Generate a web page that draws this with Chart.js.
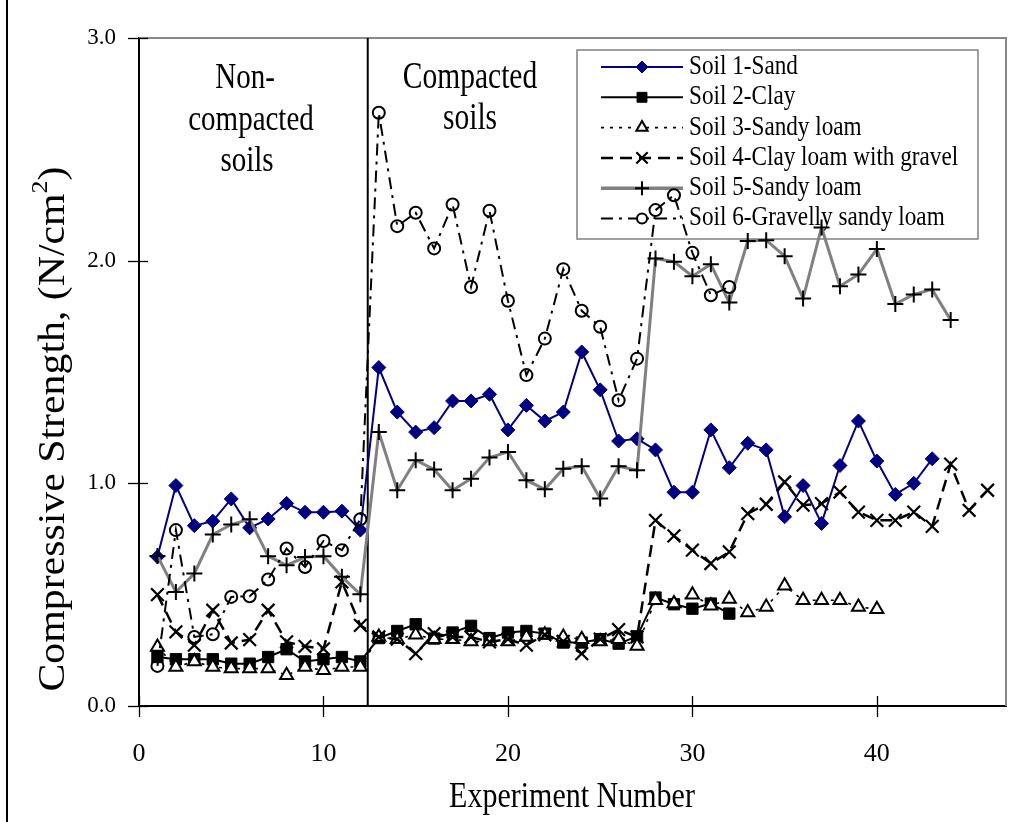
<!DOCTYPE html>
<html>
<head>
<meta charset="utf-8">
<script src="https://cdn.jsdelivr.net/npm/chart.js@4.4.1/dist/chart.umd.min.js"></script>
<style>
html,body{margin:0;padding:0;background:#fff;}
#wrap{position:relative;width:1019px;height:822px;}
canvas{display:block;}
</style>
</head>
<body>
<div id="wrap"><canvas id="c" width="1019" height="822"></canvas></div>
<script>
// ---- Data ----
const seriesNames = [
  'Soil 1-Sand',
  'Soil 2-Clay',
  'Soil 3-Sandy loam',
  'Soil 4-Clay loam with gravel',
  'Soil 5-Sandy loam',
  'Soil 6-Gravelly sandy loam'
];
// values for experiment numbers 1, 2, 3, ...
const soil1Sand = [0.67, 0.99, 0.81, 0.83, 0.93, 0.80, 0.84, 0.91, 0.87, 0.87, 0.875, 0.79,
  1.52, 1.32, 1.23, 1.25, 1.37, 1.37, 1.40, 1.24, 1.35, 1.28, 1.32, 1.59, 1.42, 1.19, 1.20,
  1.15, 0.96, 0.96, 1.24, 1.07, 1.18, 1.15, 0.85, 0.99, 0.82, 1.08, 1.28, 1.10, 0.95, 1.00, 1.11];
const soil2Clay = [0.22, 0.21, 0.21, 0.21, 0.19, 0.19, 0.22, 0.255, 0.20, 0.21, 0.22, 0.20,
  0.305, 0.337, 0.367, 0.303, 0.33, 0.36, 0.305, 0.33, 0.337, 0.325, 0.285, 0.285, 0.30, 0.28, 0.313,
  0.487, 0.457, 0.437, 0.46, 0.415];
const soil3SandyLoam = [0.265, 0.175, 0.20, 0.175, 0.168, 0.168, 0.168, 0.138, 0.175, 0.16, 0.175, 0.175,
  0.31, 0.30, 0.32, 0.30, 0.30, 0.29, 0.29, 0.29, 0.31, 0.32, 0.31, 0.30, 0.29, 0.30, 0.27,
  0.475, 0.46, 0.50, 0.45, 0.48, 0.42, 0.445, 0.54, 0.475, 0.475, 0.475, 0.445, 0.435];
const soil4ClayLoamGravel = [0.50, 0.333, 0.273, 0.43, 0.283, 0.298, 0.43, 0.288, 0.268, 0.257, 0.557, 0.362,
  0.31, 0.30, 0.235, 0.325, 0.31, 0.31, 0.288, 0.30, 0.273, 0.32, 0.29, 0.235, 0.30, 0.343, 0.31,
  0.834, 0.764, 0.70, 0.64, 0.692, 0.864, 0.906, 1.006, 0.902, 0.909, 0.961, 0.871, 0.834, 0.834, 0.871, 0.807, 1.086, 0.879, 0.969];
const soil5SandyLoam = [0.674, 0.512, 0.595, 0.77, 0.815, 0.839, 0.673, 0.632, 0.669, 0.673, 0.58, 0.502,
  1.231, 0.969, 1.104, 1.062, 0.969, 1.021, 1.116, 1.141, 1.014, 0.973, 1.066, 1.077, 0.932, 1.077, 1.059,
  2.01, 1.995, 1.93, 1.984, 1.812, 2.088, 2.092, 2.02, 1.83, 2.149, 1.885, 1.938, 2.052, 1.805, 1.848, 1.871, 1.733];
const soil6GravellySandyLoam = [0.18, 0.79, 0.31, 0.322, 0.49, 0.493, 0.568, 0.707, 0.624, 0.741, 0.70, 0.839,
  2.664, 2.155, 2.215, 2.055, 2.252, 1.882, 2.224, 1.82, 1.486, 1.65, 1.962, 1.775, 1.703, 1.373, 1.56,
  2.227, 2.294, 2.035, 1.845, 1.882];
const xTickValues = [0, 10, 20, 30, 40];
const yTickValues = [0, 1, 2, 3];
const dividerExperiment = 12.4;
const regionLabelsLeft = ['Non-', 'compacted', 'soils'];
const regionLabelsRight = ['Compacted', 'soils'];
const xTitle = 'Experiment Number';

// ---- Styles ----
const SERIF = '"Liberation Serif", "Times New Roman", serif';
const styles = [
  {color:'#000080', width:2, dash:[], pointStyle:'rectRot', radius:7, fill:'#000080', pbw:1, pcolor:'#000080'},
  {color:'#000000', width:2, dash:[], pointStyle:'rect', radius:8, fill:'#000000', pbw:1, pcolor:'#000000'},
  {color:'#000000', width:1.6, dash:[3,6], pointStyle:'triangle', radius:7.5, fill:'#ffffff', pbw:2, pcolor:'#000000'},
  {color:'#000000', width:2.5, dash:[12,7], pointStyle:'crossRot', radius:9, fill:'#000000', pbw:2.2, pcolor:'#000000'},
  {color:'#808080', width:3, dash:[], pointStyle:'cross', radius:8, fill:'#000000', pbw:2, pcolor:'#000000'},
  {color:'#000000', width:2, dash:[12,6,3,6], pointStyle:'circle', radius:6, fill:'rgba(0,0,0,0)', pbw:2, pcolor:'#000000'}
];
const seriesValues = [soil1Sand, soil2Clay, soil3SandyLoam, soil4ClayLoamGravel, soil5SandyLoam, soil6GravellySandyLoam];

const datasets = seriesValues.map((vals, i) => ({
  label: seriesNames[i],
  data: vals.map((v, k) => ({x: k + 1, y: v})),
  borderColor: styles[i].color,
  borderWidth: styles[i].width,
  borderDash: styles[i].dash,
  backgroundColor: styles[i].fill,
  pointStyle: styles[i].pointStyle,
  pointRadius: styles[i].radius,
  pointBackgroundColor: styles[i].fill,
  pointBorderColor: styles[i].pcolor,
  pointBorderWidth: styles[i].pbw,
  tension: 0,
  fill: false,
  order: 6 - i
}));

function sText(ctx, txt, x, y, size, align, sy) {
  ctx.save();
  ctx.translate(x, y);
  ctx.scale(1, sy);
  ctx.font = size + 'px ' + SERIF;
  ctx.textAlign = align;
  ctx.textBaseline = 'middle';
  ctx.fillStyle = '#000';
  ctx.fillText(txt, 0, 0);
  ctx.restore();
}

const decor = {
  id: 'decor',
  beforeDatasetsDraw(chart) {
    const ctx = chart.ctx, a = chart.chartArea;
    const xs = chart.scales.x, ys = chart.scales.y;
    ctx.save();
    // figure frame (left edge)
    ctx.strokeStyle = '#000'; ctx.lineWidth = 2;
    ctx.beginPath(); ctx.moveTo(7, 0); ctx.lineTo(7, 822); ctx.stroke();
    // plot frame top/right
    ctx.strokeStyle = '#888'; ctx.lineWidth = 2;
    ctx.beginPath(); ctx.moveTo(a.left, a.top); ctx.lineTo(a.right, a.top); ctx.lineTo(a.right, a.bottom); ctx.stroke();
    // crossing tick marks
    ctx.strokeStyle = '#000'; ctx.lineWidth = 1.3;
    xTickValues.forEach(v => {
      const px = Math.round(xs.getPixelForValue(v)) + 0.5;
      ctx.beginPath(); ctx.moveTo(px, a.bottom - 10); ctx.lineTo(px, a.bottom + 11); ctx.stroke();
    });
    yTickValues.forEach(v => {
      const py = Math.round(ys.getPixelForValue(v)) + 0.5;
      ctx.beginPath(); ctx.moveTo(a.left - 11, py); ctx.lineTo(a.left + 9, py); ctx.stroke();
    });
    // divider between non-compacted and compacted
    const dx = xs.getPixelForValue(dividerExperiment);
    ctx.strokeStyle = '#000'; ctx.lineWidth = 2;
    ctx.beginPath(); ctx.moveTo(dx, a.top); ctx.lineTo(dx, a.bottom); ctx.stroke();
    // region labels
    const lx = [245, 251, 247], ly = [78, 120, 161];
    regionLabelsLeft.forEach((t, i) => sText(ctx, t, lx[i], ly[i], 29, 'center', 1.25));
    const rx = [470, 470], ry = [78, 119];
    regionLabelsRight.forEach((t, i) => sText(ctx, t, rx[i], ry[i], 29.5, 'center', 1.25));
    // legend
    const L = {x1: 577, y1: 50, x2: 978, y2: 239};
    ctx.fillStyle = '#fff';
    ctx.fillRect(L.x1, L.y1, L.x2 - L.x1, L.y2 - L.y1);
    ctx.strokeStyle = '#808080'; ctx.lineWidth = 1.5;
    ctx.strokeRect(L.x1, L.y1, L.x2 - L.x1, L.y2 - L.y1);
    const rowY0 = 67, rowH = 30.3;
    seriesNames.forEach((name, i) => {
      const st = styles[i];
      const y = rowY0 + i * rowH;
      ctx.save();
      ctx.strokeStyle = st.color;
      ctx.lineWidth = i === 4 ? 3.5 : st.width;
      ctx.setLineDash(st.dash);
      ctx.beginPath(); ctx.moveTo(601, y); ctx.lineTo(683, y); ctx.stroke();
      ctx.setLineDash([]);
      ctx.fillStyle = st.fill; ctx.strokeStyle = st.pcolor; ctx.lineWidth = st.pbw;
      const r = i === 5 ? 5 : (i === 3 ? 8 : st.radius - 1);
      if (i === 5) { ctx.fillStyle = '#fff'; }
      Chart.helpers.drawPoint(ctx, {pointStyle: st.pointStyle, radius: r, borderWidth: st.pbw, rotation: 0}, 642, y);
      ctx.restore();
      sText(ctx, name, 689, y, 23.2, 'left', 1.15);
    });
    // axis titles
    sText(ctx, xTitle, 572, 797, 30, 'center', 1.22);
    ctx.save();
    ctx.translate(54, 429);
    ctx.rotate(-Math.PI / 2);
    ctx.scale(1.13, 1);
    ctx.fillStyle = '#000';
    ctx.textBaseline = 'middle';
    ctx.textAlign = 'left';
    const p1 = 'Compressive Strength, (N/cm', p2 = '2', p3 = ')';
    ctx.font = '37px ' + SERIF; const w1 = ctx.measureText(p1).width; const w3 = ctx.measureText(p3).width;
    ctx.font = '23px ' + SERIF; const w2 = ctx.measureText(p2).width;
    let sx = -(w1 + w2 + w3) / 2;
    ctx.font = '37px ' + SERIF; ctx.fillText(p1, sx, 0); sx += w1;
    ctx.font = '23px ' + SERIF; ctx.fillText(p2, sx, -13); sx += w2;
    ctx.font = '37px ' + SERIF; ctx.fillText(p3, sx, 0);
    ctx.restore();
    ctx.restore();
  }
};

new Chart(document.getElementById('c'), {
  type: 'line',
  data: {datasets},
  options: {
    responsive: false,
    animation: false,
    devicePixelRatio: 1,
    layout: {padding: {left: 0, top: 38, right: 13, bottom: 0}},
    plugins: {legend: {display: false}, tooltip: {enabled: false}},
    scales: {
      x: {
        type: 'linear', min: 0, max: 47,
        afterBuildTicks: s => { s.ticks = xTickValues.map(v => ({value: v})); },
        afterFit: s => { s.height = 116; },
        grid: {display: false},
        border: {display: true, color: '#000', width: 2},
        ticks: {color: '#000', font: {family: SERIF, size: 26}, padding: 25, maxRotation: 0, callback: v => String(v)}
      },
      y: {
        type: 'linear', min: 0, max: 3,
        afterBuildTicks: s => { s.ticks = yTickValues.map(v => ({value: v})); },
        afterFit: s => { s.width = 139; },
        grid: {display: false},
        border: {display: true, color: '#000', width: 2},
        ticks: {color: '#000', font: {family: SERIF, size: 23}, padding: 15, callback: v => Number(v).toFixed(1)}
      }
    }
  },
  plugins: [decor]
});
</script>
</body>
</html>
